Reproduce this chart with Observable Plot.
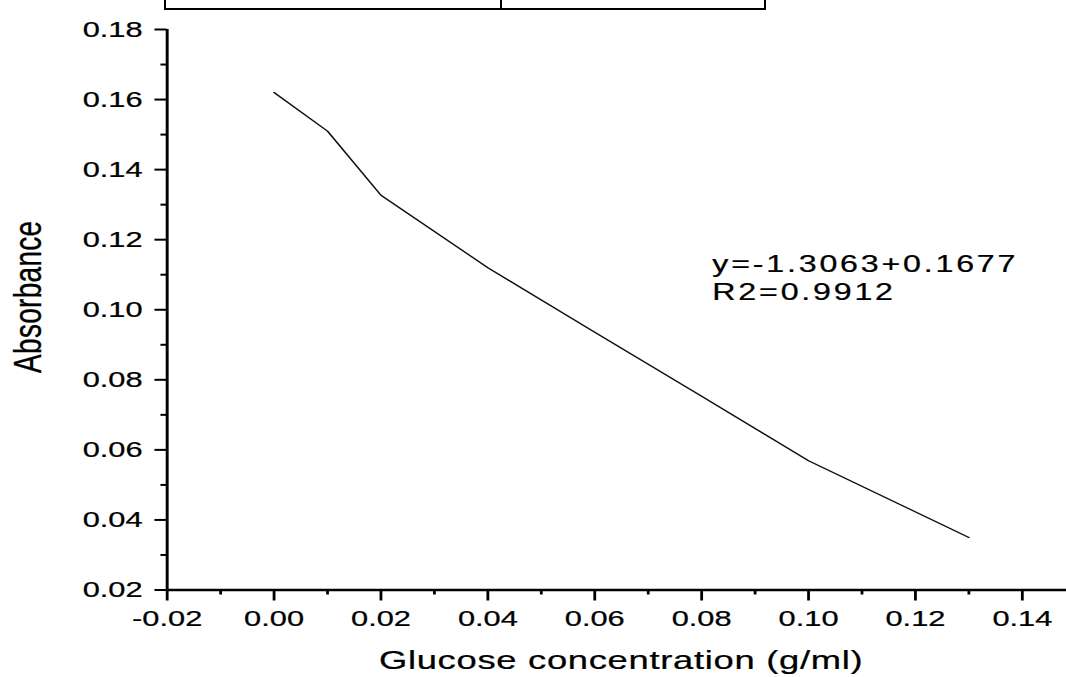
<!DOCTYPE html>
<html>
<head>
<meta charset="utf-8">
<script src="https://cdn.jsdelivr.net/npm/d3@7"></script>
<script src="https://cdn.jsdelivr.net/npm/@observablehq/plot@0.6"></script>
<style>
  html, body { margin: 0; padding: 0; background: #fff; overflow: hidden; width: 1066px; height: 677px; }
  #wrap { position: relative; width: 1066px; height: 677px; }
  #table { position: absolute; left: 164px; top: -10px; width: 598px; height: 16px;
           border: 2px solid #000; box-sizing: content-box; }
  #table .div { position: absolute; left: 334px; top: 0; width: 2px; height: 16px; background: #000; }
  #chart { position: absolute; left: 0; top: 0; }
  #chart text { stroke: #000; stroke-width: 0.25px; }
</style>
</head>
<body>
<div id="wrap">
  <div id="chart"></div>
  <div id="table"><div class="div"></div></div>
</div>
<script>
// ---- data ----
const concentration = [0, 0.01, 0.02, 0.04, 0.06, 0.08, 0.10, 0.13];
const absorbance    = [0.162, 0.151, 0.1327, 0.112, 0.0936, 0.0753, 0.0569, 0.035];

const xMajorTicks = [-0.02, 0.00, 0.02, 0.04, 0.06, 0.08, 0.10, 0.12, 0.14];
const xMinorTicks = [-0.01, 0.01, 0.03, 0.05, 0.07, 0.09, 0.11, 0.13];
const yMajorTicks = [0.02, 0.04, 0.06, 0.08, 0.10, 0.12, 0.14, 0.16, 0.18];
const yMinorTicks = [0.03, 0.05, 0.07, 0.09, 0.11, 0.13, 0.15, 0.17];

const xTitle = "Glucose concentration (g/ml)";
const yTitle = "Absorbance";
const annotationLines = ["y=-1.3063+0.1677", "R2=0.9912"];
const annotationAt = {x: 0.082, y: 0.1165};

const table = concentration.map((c, i) => ({c, a: absorbance[i]}));

// The reference image is stretched horizontally; draw narrower and stretch.
const STRETCH = 1066 / 762;
const font = "'Liberation Sans', Arial, Helvetica, sans-serif";
const blank = () => "";

const svg = Plot.plot({
  width: 762,
  height: 677,
  marginLeft: 119,
  marginRight: 0,
  marginTop: 29,
  marginBottom: 87.5,
  style: {fontFamily: font, background: "white", color: "#000", overflow: "visible"},
  x: {domain: [-0.02, 0.1483], axis: null},
  y: {domain: [0.02, 0.18], axis: null},
  marks: [
    // axis lines
    Plot.ruleY([0.02], {stroke: "#000", strokeWidth: 2.5}),
    Plot.ruleX([-0.02], {y1: 0.02, y2: 0.18, stroke: "#000", strokeWidth: 2.1}),
    // x ticks
    Plot.axisX(xMajorTicks, {
      anchor: "bottom", tickSize: 11, tickPadding: 9, strokeWidth: 2,
      fontSize: 22, fill: "#000", tickFormat: d => d.toFixed(2), label: null
    }),
    Plot.axisX(xMinorTicks, {anchor: "bottom", tickSize: 5, strokeWidth: 2, tickFormat: blank, label: null}),
    // y ticks
    Plot.axisY(yMajorTicks, {
      anchor: "left", tickSize: 8.6, tickPadding: 9, strokeWidth: 2,
      fontSize: 22, fill: "#000", tickFormat: d => d.toFixed(2), label: null
    }),
    Plot.axisY(yMinorTicks, {anchor: "left", tickSize: 4.3, strokeWidth: 2, tickFormat: blank, label: null}),
    // data line
    Plot.line(table, {x: "c", y: "a", stroke: "#111", strokeWidth: 1.25}),
    // axis titles
    Plot.text([xTitle], {
      frameAnchor: "bottom", text: d => d, fontSize: 26, lineAnchor: "top",
      dy: 60.5, dx: 3, fill: "#000"
    }),
    Plot.text([yTitle], {
      frameAnchor: "left", textAnchor: "middle", text: d => d, fontSize: 28, rotate: -90,
      lineAnchor: "bottom", dx: -90.5, dy: -13, fill: "#000"
    }),
    // regression annotation
    Plot.text([annotationLines.join("\n")], {
      x: () => annotationAt.x, y: () => annotationAt.y, text: d => d,
      textAnchor: "start", lineAnchor: "top", fontSize: 23, lineHeight: 1.22,
      fill: "#000"
    })
  ]
});

const spacing = [[xTitle, "0.5px"], [yTitle, "0.3px"], ["R2=", "2px"]];
d3.select(svg).selectAll("text").each(function () {
  const t = this.textContent;
  for (const [key, ls] of spacing) {
    if (t.includes(key)) this.setAttribute("letter-spacing", ls);
  }
});

svg.style.transform = `scaleX(${STRETCH})`;
svg.style.transformOrigin = "0 0";
svg.style.maxWidth = "none";
document.getElementById("chart").appendChild(svg);
</script>
</body>
</html>
